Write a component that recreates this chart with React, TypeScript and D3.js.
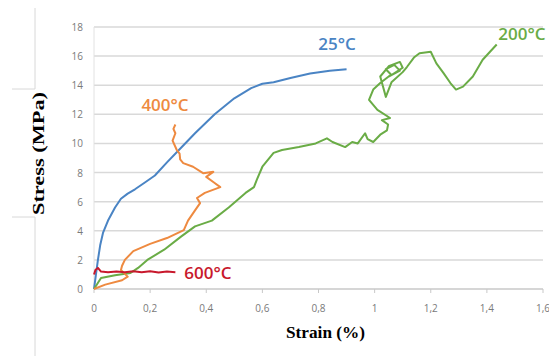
import React, { useEffect, useRef } from 'react';
import * as d3 from 'd3';

// strain (%), stress (MPa)
const s25 = [[0,0],[0.007,1.0],[0.014,2.0],[0.022,3.0],[0.032,3.85],[0.05,4.7],[0.075,5.6],[0.096,6.2],[0.12,6.55],[0.146,6.85],[0.18,7.3],[0.217,7.8],[0.26,8.7],[0.3,9.5],[0.36,10.7],[0.43,12.0],[0.5,13.1],[0.56,13.8],[0.6,14.1],[0.64,14.2],[0.7,14.5],[0.77,14.8],[0.84,15.0],[0.9,15.1]];
const s400 = [[0,0],[0.04,0.3],[0.1,0.6],[0.12,0.85],[0.096,1.3],[0.1,1.6],[0.11,2.0],[0.14,2.6],[0.2,3.1],[0.26,3.5],[0.32,4.05],[0.335,4.7],[0.36,5.4],[0.378,5.9],[0.367,6.25],[0.395,6.6],[0.45,7.0],[0.425,7.35],[0.40,7.7],[0.425,8.05],[0.39,7.95],[0.353,8.4],[0.318,8.65],[0.307,8.9],[0.305,9.3],[0.295,9.55],[0.28,10.2],[0.29,10.7],[0.283,11.0],[0.29,11.3]];
const s600 = [[0,1.0],[0.005,1.3],[0.014,1.45],[0.025,1.2],[0.05,1.15],[0.08,1.2],[0.11,1.15],[0.14,1.22],[0.17,1.15],[0.2,1.22],[0.23,1.13],[0.26,1.2],[0.29,1.15]];
const s200 = [[0,0],[0.025,0.75],[0.075,0.95],[0.13,1.1],[0.157,1.45],[0.19,2.0],[0.25,2.7],[0.31,3.6],[0.36,4.3],[0.42,4.7],[0.48,5.6],[0.54,6.6],[0.57,7.0],[0.58,7.5],[0.60,8.4],[0.64,9.35],[0.67,9.55],[0.73,9.75],[0.79,10.0],[0.83,10.35],[0.85,10.1],[0.895,9.75],[0.92,10.1],[0.94,10.0],[0.966,10.7],[0.975,10.3],[0.995,10.1],[1.02,10.6],[1.044,10.9],[1.048,11.3],[1.026,11.6],[1.055,11.75],[1.01,12.3],[0.98,13.0],[0.995,13.7],[1.02,14.15],[1.05,14.6],[1.09,15.0],[1.07,15.4],[1.04,15.1],[1.06,14.7],[1.1,15.2],[1.09,15.6],[1.05,15.3],[1.02,14.6],[1.04,13.2],[1.06,14.2],[1.1,14.9],[1.115,15.25],[1.14,15.9],[1.16,16.2],[1.2,16.3],[1.22,15.5],[1.245,14.85],[1.27,14.15],[1.29,13.7],[1.315,13.9],[1.35,14.6],[1.385,15.75],[1.435,16.8]];

const yTicks = [0,2,4,6,8,10,12,14,16,18];
const xTicks = [0,0.2,0.4,0.6,0.8,1,1.2,1.4,1.6];
const xTickLabels = ['0','0,2','0,4','0,6','0,8','1','1,2','1,4','1,6'];

const series = [
  { name: '25°C', data: s25, color: '#4a84c4', lx: 0.866, ly: 16.45 },
  { name: '200°C', data: s200, color: '#6aac46', lx: 1.525, ly: 17.1 },
  { name: '400°C', data: s400, color: '#ee8a40', lx: 0.253, ly: 12.23 },
  { name: '600°C', data: s600, color: '#c8182c', lx: 0.406, ly: 0.69 },
];

const App = () => {
  const svgRef = useRef(null);

  useEffect(() => {
    const svg = d3.select(svgRef.current);
    svg.selectAll('*').remove();

    const x = d3.scaleLinear().domain([0, 1.6]).range([94, 543]);
    const y = d3.scaleLinear().domain([0, 18]).range([289, 27]);

    // scan artefacts at left edge
    svg.append('path')
      .attr('d', 'M35,8V89H12M12,217H35V356')
      .attr('fill', 'none').attr('stroke', '#d8d8d8').attr('stroke-width', 1);

    // gridlines
    svg.append('g').selectAll('line')
      .data(yTicks.filter(d => d > 0))
      .enter().append('line')
        .attr('x1', x(0)).attr('x2', x(1.6))
        .attr('y1', d => y(d)).attr('y2', d => y(d))
        .attr('stroke', '#d9d9d9').attr('stroke-width', 1.5);

    // axes
    svg.append('line')
      .attr('x1', x(0)).attr('x2', x(1.6)).attr('y1', y(0)).attr('y2', y(0))
      .attr('stroke', '#c8c8c8').attr('stroke-width', 1.5);
    svg.append('line')
      .attr('x1', x(0)).attr('x2', x(0)).attr('y1', y(0)).attr('y2', y(18))
      .attr('stroke', '#e2e2e2').attr('stroke-width', 1);
    svg.append('g').selectAll('line')
      .data(xTicks)
      .enter().append('line')
        .attr('x1', d => x(d)).attr('x2', d => x(d))
        .attr('y1', y(0)).attr('y2', y(0) + 4)
        .attr('stroke', '#c8c8c8').attr('stroke-width', 1);

    svg.append('g').selectAll('text')
      .data(yTicks)
      .enter().append('text')
        .attr('x', 83).attr('y', d => y(d) + 4)
        .attr('text-anchor', 'end')
        .attr('font-family', 'Open Sans, sans-serif').attr('font-size', 10)
        .attr('fill', '#7a7a7a')
        .text(d => d);

    svg.append('g').selectAll('text')
      .data(xTicks)
      .enter().append('text')
        .attr('x', d => x(d)).attr('y', 312)
        .attr('text-anchor', 'middle')
        .attr('font-family', 'Open Sans, sans-serif').attr('font-size', 10)
        .attr('fill', '#7a7a7a')
        .text((d, i) => xTickLabels[i]);

    // axis titles
    svg.append('text')
      .attr('x', 286).attr('y', 338)
      .attr('font-family', 'Liberation Serif, serif').attr('font-weight', 'bold')
      .attr('font-size', 16)
      .attr('textLength', 79).attr('lengthAdjust', 'spacingAndGlyphs')
      .text('Strain (%)');
    svg.append('text')
      .attr('transform', 'translate(44,215) rotate(-90)')
      .attr('font-family', 'Liberation Serif, serif').attr('font-weight', 'bold')
      .attr('font-size', 16)
      .attr('textLength', 123).attr('lengthAdjust', 'spacingAndGlyphs')
      .text('Stress (MPa)');

    const line = d3.line().x(d => x(d[0])).y(d => y(d[1]));

    svg.append('g').selectAll('path')
      .data(series)
      .enter().append('path')
        .attr('d', d => line(d.data))
        .attr('fill', 'none')
        .attr('stroke', d => d.color)
        .attr('stroke-width', 2)
        .attr('stroke-linejoin', 'round');

    svg.append('g').selectAll('text')
      .data(series)
      .enter().append('text')
        .attr('x', d => x(d.lx)).attr('y', d => y(d.ly))
        .attr('text-anchor', 'middle')
        .attr('font-family', 'Open Sans, sans-serif').attr('font-weight', 600)
        .attr('font-size', 17)
        .attr('fill', d => d.color)
        .text(d => d.name);
  }, []);

  return (
    <svg ref={svgRef} width="549" height="356" style={{ position: 'absolute', left: 0, top: 0, background: '#fff' }}>
    </svg>
  );
};

export default App;
